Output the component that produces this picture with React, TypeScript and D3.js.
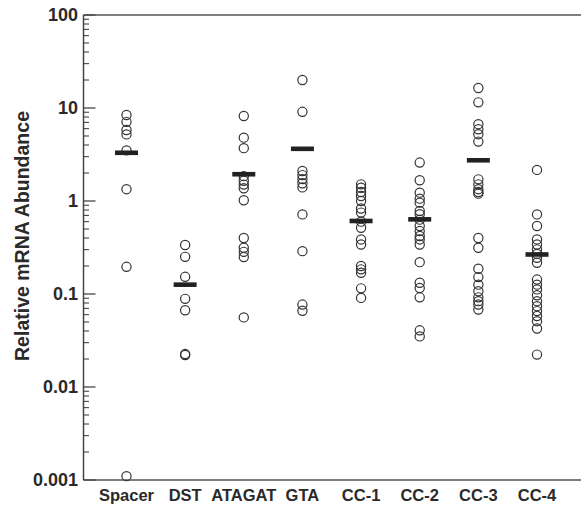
import React from "react";
import * as d3 from "d3";

const categories = ["Spacer", "DST", "ATAGAT", "GTA", "CC-1", "CC-2", "CC-3", "CC-4"];

const spacerValues = [8.4, 7.1, 5.8, 5.2, 3.5, 1.34, 0.196, 0.0011];
const dstValues = [0.336, 0.251, 0.153, 0.0887, 0.0669, 0.0226, 0.0221];
const atagatValues = [8.2, 4.8, 3.7, 1.85, 1.65, 1.5, 1.37, 1.02, 0.4, 0.314, 0.284, 0.25, 0.056];
const gtaValues = [20.0, 9.1, 2.1, 1.9, 1.72, 1.55, 1.4, 0.718, 0.289, 0.077, 0.066];
const cc1Values = [1.51, 1.39, 1.25, 1.13, 1.0, 0.83, 0.75, 0.6, 0.516, 0.386, 0.341, 0.2, 0.184, 0.169, 0.115, 0.0908];
const cc2Values = [2.59, 1.67, 1.23, 1.06, 0.96, 0.78, 0.72, 0.63, 0.538, 0.475, 0.42, 0.386, 0.341, 0.22, 0.132, 0.116, 0.092, 0.0407, 0.035];
const cc3Values = [16.4, 11.5, 6.7, 5.9, 5.23, 4.35, 1.71, 1.51, 1.34, 1.25, 1.2, 0.4, 0.314, 0.187, 0.152, 0.126, 0.107, 0.092, 0.0838, 0.077, 0.068];
const cc4Values = [2.16, 0.718, 0.538, 0.386, 0.341, 0.302, 0.27, 0.245, 0.217, 0.143, 0.126, 0.112, 0.097, 0.0838, 0.074, 0.0655, 0.058, 0.051, 0.0426, 0.0223];

const seriesValues = [spacerValues, dstValues, atagatValues, gtaValues, cc1Values, cc2Values, cc3Values, cc4Values];
const barValues = [3.3, 0.126, 1.94, 3.64, 0.61, 0.635, 2.74, 0.266];

const yTickValues = [0.001, 0.01, 0.1, 1, 10, 100];
const yTickLabels = ["0.001", "0.01", "0.1", "1", "10", "100"];

const W = 581;
const H = 512;
const FONT = "'Liberation Sans', Arial, Helvetica, sans-serif";

export default function App() {
  const axisX = 83.5;
  const y = d3.scaleLog().domain([0.001, 100]).range([480, 15]);
  const x = d3.scalePoint<string>().domain(categories).range([126.5, 537]);

  const minorTicks: number[] = [];
  for (let e = -3; e < 2; e++) {
    for (let m = 2; m <= 9; m++) minorTicks.push(m * Math.pow(10, e));
  }

  const ink = "#2a2a2a";

  return (
    <svg
      width={W}
      height={H}
      style={{ position: "absolute", left: 0, top: 0, background: "#fff" }}
    >
      {/* frame lines */}
      <line x1={axisX} x2={W + 5} y1={y(100)} y2={y(100)} stroke="#555" strokeWidth={1.3} />
      <line x1={axisX} x2={W + 5} y1={y(0.001)} y2={y(0.001)} stroke="#555" strokeWidth={1.3} />
      <line x1={axisX} x2={axisX} y1={y(100)} y2={y(0.001)} stroke="#444" strokeWidth={1.5} />

      {/* minor ticks */}
      {minorTicks.map((t, i) => (
        <line key={"m" + i} x1={axisX} x2={axisX + 5.5} y1={y(t)} y2={y(t)} stroke="#444" strokeWidth={1.1} />
      ))}
      {/* major ticks */}
      {yTickValues.map((t, i) => (
        <g key={"t" + i}>
          <line x1={axisX} x2={axisX + 12} y1={y(t)} y2={y(t)} stroke="#444" strokeWidth={1.3} />
          <text
            x={78}
            y={y(t)}
            dy="0.36em"
            textAnchor="end"
            fontFamily={FONT}
            fontWeight="bold"
            fontSize={18}
            fill={ink}
          >
            {yTickLabels[i]}
          </text>
        </g>
      ))}

      {/* y axis title */}
      <text
        transform={`translate(29,236) rotate(-90)`}
        textAnchor="middle"
        fontFamily={FONT}
        fontWeight="bold"
        fontSize={19.5}
        fill={ink}
      >
        Relative mRNA Abundance
      </text>

      {/* category labels */}
      {categories.map((c) => (
        <text
          key={"c" + c}
          x={x(c)}
          y={501}
          textAnchor="middle"
          fontFamily={FONT}
          fontWeight="bold"
          fontSize={16.5}
          fill={ink}
        >
          {c}
        </text>
      ))}

      {/* points */}
      {categories.map((c, ci) =>
        seriesValues[ci].map((v, vi) => (
          <circle
            key={c + "p" + vi}
            cx={x(c)}
            cy={y(v)}
            r={4.6}
            fill="none"
            stroke="#333"
            strokeWidth={1.2}
          />
        ))
      )}

      {/* summary bars */}
      {categories.map((c, ci) => (
        <rect
          key={c + "bar"}
          x={(x(c) as number) - 11.5}
          y={y(barValues[ci]) - 2.3}
          width={23}
          height={4.6}
          fill="#222"
        />
      ))}
    </svg>
  );
}
